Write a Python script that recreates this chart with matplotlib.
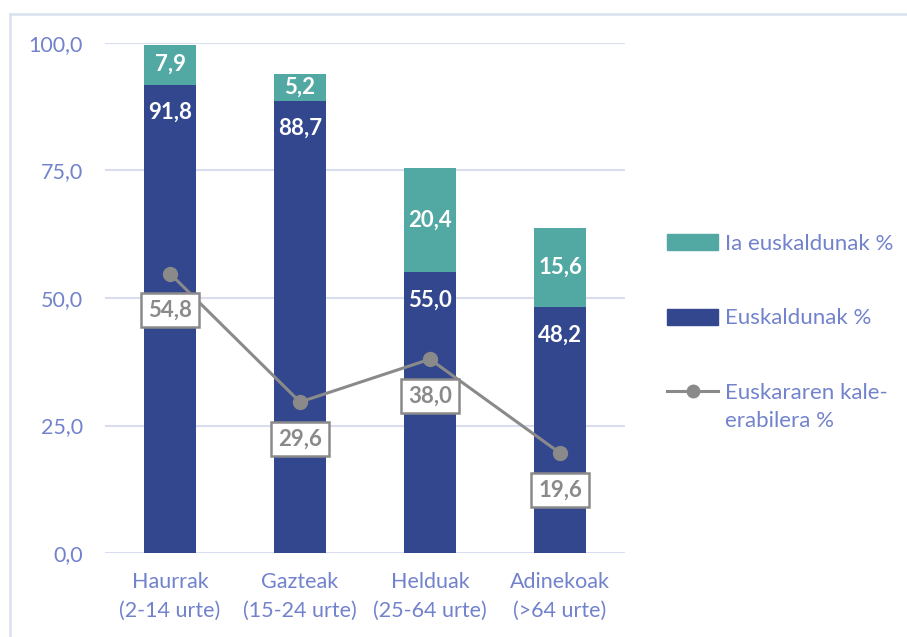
import matplotlib
matplotlib.use("Agg")
import matplotlib.pyplot as plt
from matplotlib.lines import Line2D
from matplotlib.patches import Patch
import numpy as np

plt.rcParams['font.family'] = ['Lato', 'DejaVu Sans']

categories = ["Haurrak\n(2-14 urte)", "Gazteak\n(15-24 urte)", "Helduak\n(25-64 urte)", "Adinekoak\n(>64 urte)"]
euskaldunak = [91.8, 88.7, 55.0, 48.2]
ia_euskaldunak = [7.9, 5.2, 20.4, 15.6]
kale_erabilera = [54.8, 29.6, 38.0, 19.6]
yticks = [0, 25, 50, 75, 100]

blue = '#33478F'
teal = '#52A8A2'
gray = '#8A8A8A'
txt = '#7282CC'

fig = plt.figure(figsize=(9.07, 6.37), dpi=100)
W, H = 907, 637
ax = fig.add_axes([105 / W, 1 - 553 / H, (625 - 105) / W, (553 - 43) / H])

x = np.arange(len(categories))
bw = 52 / 130
ax.bar(x, euskaldunak, width=bw, color=blue, zorder=2)
ax.bar(x, ia_euskaldunak, width=bw, bottom=euskaldunak, color=teal, zorder=2)
ax.plot(x, kale_erabilera, color=gray, lw=2.2, marker='o', ms=10, zorder=3)

def fmt(v):
    return f"{v:.1f}".replace('.', ',')

for i in range(len(x)):
    top = euskaldunak[i]
    ax.annotate(fmt(top), (x[i], top), xytext=(0, -20), textcoords='offset points',
                ha='center', va='center', color='white', fontsize=16, fontweight='bold', zorder=4)
    ax.text(x[i], top + ia_euskaldunak[i] / 2, fmt(ia_euskaldunak[i]), ha='center', va='center',
            color='white', fontsize=16, fontweight='bold', zorder=4)
    ax.annotate(fmt(kale_erabilera[i]), (x[i], kale_erabilera[i]), xytext=(0, -26.5),
                textcoords='offset points', ha='center', va='center', color=gray,
                fontsize=16, fontweight='bold', zorder=5,
                bbox=dict(boxstyle='square,pad=0.3', fc='white', ec=gray, lw=1.8))

ax.set_xlim(-0.5, 3.5)
ax.set_ylim(0, 100)
ax.set_yticks(yticks)
ax.set_yticklabels([fmt(v) for v in yticks])
ax.set_xticks(x)
ax.set_xticklabels(categories)
ax.tick_params(axis='both', length=0, colors=txt, labelsize=15.5)
ax.tick_params(axis='y', pad=16)
ax.tick_params(axis='x', pad=14)
for lbl in ax.get_xticklabels():
    lbl.set_linespacing(1.55)
ax.grid(axis='y', color='#D9DDF0', lw=1.5, zorder=0)
for s in ax.spines.values():
    s.set_visible(False)
ax.set_axisbelow(True)

handles = [Patch(color=teal), Patch(color=blue),
           Line2D([0], [0], color=gray, lw=2.2, marker='o', ms=9)]
labels = ["Ia euskaldunak %", "Euskaldunak %", "Euskararen kale-"]
leg = fig.legend(handles, labels, loc='upper left', bbox_to_anchor=(667 / W, 1 - 234 / H),
                 frameon=False, fontsize=16, labelcolor=txt, handlelength=2.3,
                 handleheight=0.75, handletextpad=0.3, labelspacing=2.45,
                 borderaxespad=0, borderpad=0)
fig.text(725 / W, 1 - 421 / H, "erabilera %", color=txt, fontsize=16, va='center', ha='left')

fig.add_artist(Line2D([10 / W, 1], [1 - 14 / H, 1 - 14 / H], color='#DCE3EE', lw=2))
fig.add_artist(Line2D([10 / W, 10 / W], [0, 1 - 14 / H], color='#DCE3EE', lw=2))

fig.savefig('out.png', dpi=100, facecolor='white')
